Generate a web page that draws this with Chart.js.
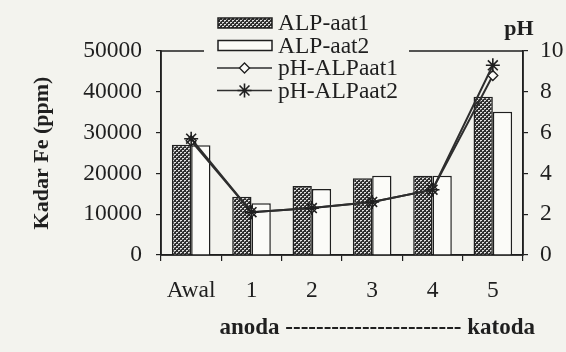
<!DOCTYPE html>
<html>
<head>
<meta charset="utf-8">
<script src="https://cdn.jsdelivr.net/npm/chart.js@4"></script>
<style>
  body { margin: 0; background: #f3f3ee; }
</style>
</head>
<body>
<canvas id="myChart" width="566" height="352"></canvas>
<script>
var categories = ['Awal', '1', '2', '3', '4', '5'];
var feAat1 = [27000, 14300, 16900, 18800, 19400, 38800];
var feAat2 = [26900, 12700, 16200, 19400, 19400, 35100];
var phAat1 = [5.6, 2.1, 2.3, 2.6, 3.2, 8.8];
var phAat2 = [5.7, 2.1, 2.3, 2.6, 3.2, 9.3];
var feTicks = [0, 10000, 20000, 30000, 40000, 50000];
var phTicks = [0, 2, 4, 6, 8, 10];
var seriesNames = ['ALP-aat1', 'ALP-aat2', 'pH-ALPaat1', 'pH-ALPaat2'];

var ink = '#1f1f1f';
var serif = "'Liberation Serif', 'DejaVu Serif', serif";

// dotted fill for the first bar series
var pc = document.createElement('canvas');
pc.width = 4; pc.height = 4;
var p = pc.getContext('2d');
p.fillStyle = '#2e2e2e';
p.fillRect(0, 0, 4, 4);
p.fillStyle = '#e2e2e2';
p.fillRect(0, 0, 2, 1);
p.fillRect(2, 2, 2, 1);
p.fillStyle = '#9a9a9a';
p.fillRect(0, 1, 1, 1);
p.fillRect(2, 3, 1, 1);
var dots = document.getElementById('myChart').getContext('2d').createPattern(pc, 'repeat');

var extras = {
  id: 'extras',
  beforeDatasetsDraw: function (chart) {
    var a = chart.chartArea, c = chart.ctx;
    c.save();
    c.strokeStyle = ink;
    c.lineWidth = 1.5;
    c.strokeRect(a.left, a.top, a.right - a.left, a.bottom - a.top);
    c.restore();
  },
  afterDraw: function (chart) {
    var c = chart.ctx, a = chart.chartArea;
    c.save();
    // legend
    c.fillStyle = '#f3f3ee';
    c.fillRect(204, 8, 205, 94);
    var rows = [23, 45.5, 68, 90.5];
    chart.data.datasets.forEach(function (ds, i) {
      var y = rows[i];
      if (ds.type === 'bar') {
        c.fillStyle = ds.backgroundColor;
        c.fillRect(218, y - 5, 54, 10);
        c.strokeStyle = ink;
        c.lineWidth = 1.5;
        c.strokeRect(218, y - 5, 54, 10);
      } else {
        c.strokeStyle = ds.borderColor;
        c.lineWidth = 1.5;
        c.beginPath();
        c.moveTo(217, y);
        c.lineTo(272, y);
        c.stroke();
        c.fillStyle = ds.pointBackgroundColor;
        c.strokeStyle = ds.pointBorderColor;
        c.lineWidth = ds.pointBorderWidth;
        Chart.helpers.drawPoint(c, {pointStyle: ds.pointStyle, radius: ds.pointRadius, borderWidth: ds.pointBorderWidth, rotation: 0}, 244.5, y);
      }
      c.fillStyle = ink;
      c.font = '23.5px ' + serif;
      c.textBaseline = 'middle';
      c.textAlign = 'left';
      c.fillText(ds.label, 278, y + 1);
    });
    // right axis heading and x caption
    c.font = 'bold 22px ' + serif;
    c.textAlign = 'center';
    c.fillText('pH', 519, 29);
    c.font = 'bold 23px ' + serif;
    c.textAlign = 'right';
    c.fillText('anoda ----------------------- katoda', a.right + 12, 328);
    c.restore();
  }
};

function plain(v) { return String(v); }

new Chart(document.getElementById('myChart'), {
  data: {
    labels: categories,
    datasets: [{
      type: 'bar',
      label: seriesNames[0],
      data: feAat1,
      yAxisID: 'y',
      backgroundColor: dots,
      borderColor: ink,
      borderWidth: 1.5,
      order: 2
    }, {
      type: 'bar',
      label: seriesNames[1],
      data: feAat2,
      yAxisID: 'y',
      backgroundColor: '#fbfbf8',
      borderColor: ink,
      borderWidth: 1.5,
      order: 2
    }, {
      type: 'line',
      label: seriesNames[2],
      data: phAat1,
      yAxisID: 'y1',
      borderColor: '#2e2e2e',
      borderWidth: 2,
      pointStyle: 'rectRot',
      pointRadius: 5,
      pointBackgroundColor: '#fbfbf8',
      pointBorderColor: ink,
      pointBorderWidth: 1.3,
      order: 1
    }, {
      type: 'line',
      label: seriesNames[3],
      data: phAat2,
      yAxisID: 'y1',
      borderColor: '#2e2e2e',
      borderWidth: 2,
      pointStyle: 'star',
      pointRadius: 7,
      pointBackgroundColor: ink,
      pointBorderColor: ink,
      pointBorderWidth: 1.6,
      order: 0
    }]
  },
  options: {
    responsive: false,
    animation: false,
    devicePixelRatio: 1,
    layout: { padding: { top: 51, left: 0, right: 0, bottom: 0 } },
    datasets: { bar: { categoryPercentage: 0.64, barPercentage: 1 } },
    plugins: { legend: { display: false }, tooltip: { enabled: false } },
    scales: {
      x: {
        afterFit: function (s) { s.height = 97; },
        grid: { drawOnChartArea: false, tickLength: 6, color: ink, lineWidth: 1.2 },
        border: { color: ink, width: 1.5 },
        ticks: { color: ink, padding: 16, font: { family: serif, size: 23.5 } }
      },
      y: {
        position: 'left',
        min: 0,
        max: 50000,
        afterFit: function (s) { s.width = 161; },
        afterBuildTicks: function (s) { s.ticks = feTicks.map(function (v) { return {value: v}; }); },
        grid: { drawOnChartArea: false, tickLength: 5, color: ink, lineWidth: 1.2 },
        border: { color: ink, width: 1.5 },
        ticks: { color: ink, padding: 14, callback: plain, font: { family: serif, size: 23.5 } },
        title: { display: true, text: 'Kadar Fe (ppm)', color: ink, padding: { top: 29, bottom: 0 }, font: { family: serif, size: 22, weight: 'bold' } }
      },
      y1: {
        position: 'right',
        min: 0,
        max: 10,
        afterFit: function (s) { s.width = 43; },
        afterBuildTicks: function (s) { s.ticks = phTicks.map(function (v) { return {value: v}; }); },
        grid: { drawOnChartArea: false, tickLength: 5, color: ink, lineWidth: 1.2 },
        border: { color: ink, width: 1.5 },
        ticks: { color: ink, padding: 12, callback: plain, font: { family: serif, size: 23.5 } }
      }
    }
  },
  plugins: [extras]
});
</script>
</body>
</html>
